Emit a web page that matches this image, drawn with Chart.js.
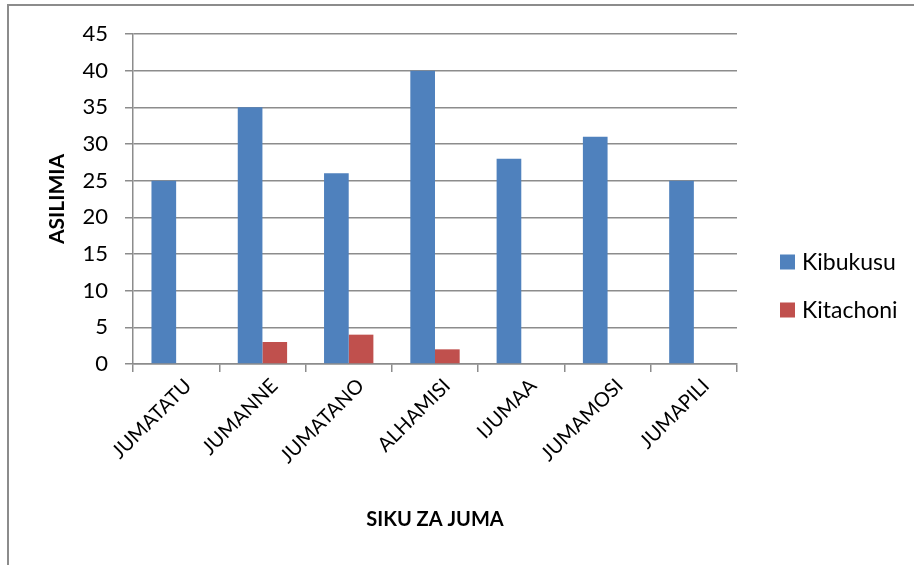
<!DOCTYPE html>
<html>
<head>
<meta charset="utf-8">
<script src="https://cdn.jsdelivr.net/npm/chart.js@4"></script>
<style>
  html, body { margin:0; padding:0; background:#fff; }
  #wrap { position:relative; width:914px; height:565px; overflow:hidden; }
  #frame { position:absolute; left:7px; top:4px; width:1000px; height:1000px; border:2px solid #8c8c8c; box-sizing:border-box; }
  canvas { position:absolute; left:0; top:0; }
</style>
</head>
<body>
<div id="wrap">
  <div id="frame"></div>
  <canvas id="c" width="914" height="565"></canvas>
</div>
<script>
const categories = ['JUMATATU','JUMANNE','JUMATANO','ALHAMISI','IJUMAA','JUMAMOSI','JUMAPILI'];
const kibukusu = [25, 35, 26, 40, 28, 31, 25];
const kitachoni = [0, 3, 4, 2, 0, 0, 0];
const yTicks = { min: 0, max: 45, step: 5 };
const seriesNames = ['Kibukusu', 'Kitachoni'];
const colors = ['#4F81BD', '#C0504D'];

const gridColor = '#8c8c8c';

const legendPlugin = {
  id: 'sideLegend',
  afterDraw(chart) {
    const ctx = chart.ctx;
    ctx.save();
    ctx.font = '23px Lato';
    ctx.textBaseline = 'middle';
    ctx.textAlign = 'left';
    const ys = [262, 310];
    chart.data.datasets.forEach((ds, i) => {
      ctx.fillStyle = ds.backgroundColor;
      ctx.fillRect(780, ys[i] - 7.5, 15, 15);
      ctx.fillStyle = '#000';
      ctx.fillText(ds.label, 802, ys[i] + 1);
    });
    ctx.restore();
  }
};

new Chart(document.getElementById('c'), {
  type: 'bar',
  data: {
    labels: categories,
    datasets: [
      { label: seriesNames[0], data: kibukusu, backgroundColor: colors[0], barPercentage: 1, categoryPercentage: 0.572 },
      { label: seriesNames[1], data: kitachoni, backgroundColor: colors[1], barPercentage: 1, categoryPercentage: 0.572 }
    ]
  },
  options: {
    responsive: false,
    animation: false,
    layout: { padding: { left: 8, top: 34, right: 177, bottom: 0 } },
    plugins: { legend: { display: false }, tooltip: { enabled: false } },
    scales: {
      x: {
        afterFit(s) { s.height = 201; },
        grid: { drawOnChartArea: false, drawTicks: true, tickLength: 8, color: gridColor, lineWidth: 1.5, offset: true },
        border: { color: gridColor, width: 1.5 },
        ticks: { color: '#000', font: { family: 'Lato', size: 20 }, minRotation: 45, maxRotation: 45, padding: 2, labelOffset: 12, autoSkip: false },
        title: { display: true, text: 'SIKU ZA JUMA', color: '#000', font: { family: 'Lato', size: 20, weight: 'bold' }, padding: { top: 0, bottom: 33 } }
      },
      y: {
        min: yTicks.min, max: yTicks.max,
        afterFit(s) { s.width = 125; },
        grid: { color: gridColor, lineWidth: 1.5, tickLength: 8 },
        border: { color: gridColor, width: 1.5 },
        ticks: { stepSize: yTicks.step, color: '#000', font: { family: 'Lato', size: 22 }, padding: 17 },
        title: { display: true, text: 'ASILIMIA', color: '#000', font: { family: 'Lato', size: 21, weight: 'bold' }, padding: { top: 37, bottom: 0 } }
      }
    }
  },
  plugins: [legendPlugin]
});
</script>
</body>
</html>
